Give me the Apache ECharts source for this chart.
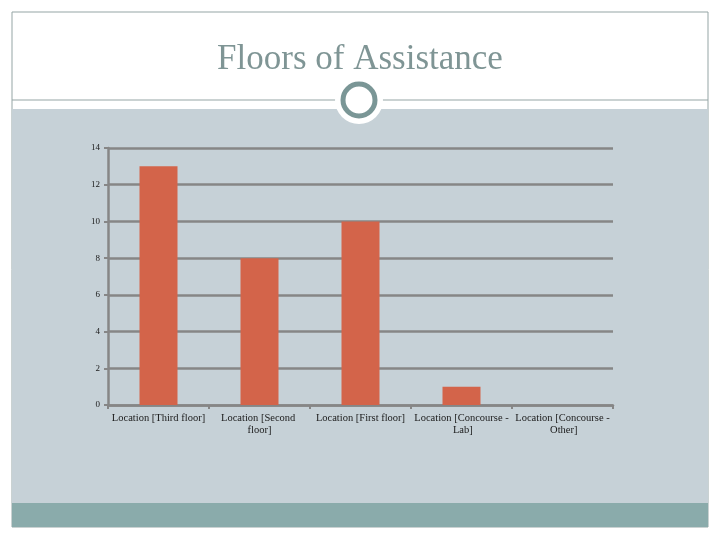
<!DOCTYPE html>
<html>
<head>
<meta charset="utf-8">
<script src="https://cdn.jsdelivr.net/npm/echarts@6/dist/echarts.min.js"></script>
<style>
  html, body { margin: 0; padding: 0; background: #fff; }
  #main { width: 720px; height: 540px; }
</style>
</head>
<body>
<div id="main"></div>
<script>
var titleText = 'Floors of Assistance';
var categories = [
  'Location [Third floor]',
  'Location [Second floor]',
  'Location [First floor]',
  'Location [Concourse - Lab]',
  'Location [Concourse - Other]'
];
var counts = [13, 8, 10, 1, 0];
var yTicks = [0, 2, 4, 6, 8, 10, 12, 14];

var myChart = echarts.init(document.getElementById('main'));

var option = {
  backgroundColor: '#ffffff',
  animation: false,
  title: {
    text: titleText,
    left: 'center',
    top: 37,
    textStyle: {
      fontFamily: 'Liberation Serif',
      fontWeight: 'normal',
      fontSize: 35,
      color: '#7f9595'
    }
  },
  graphic: [
    // slide frame
    { type: 'rect', z: -20, shape: { x: 12, y: 12, width: 696, height: 515 },
      style: { fill: '#ffffff', stroke: '#95a5a5', lineWidth: 1 } },
    // grey-blue panel
    { type: 'rect', z: -19, shape: { x: 12, y: 109, width: 696, height: 394 },
      style: { fill: '#c6d1d7' } },
    // bottom band
    { type: 'rect', z: -19, shape: { x: 12, y: 503, width: 696, height: 24 },
      style: { fill: '#8aabab' } },
    // rule under title
    { type: 'line', z: -18, shape: { x1: 12, y1: 100, x2: 708, y2: 100 },
      style: { stroke: '#95a5a5', lineWidth: 1 } },
    // circle badge
    { type: 'circle', z: -17, shape: { cx: 359, cy: 100, r: 24 },
      style: { fill: '#ffffff' } },
    { type: 'circle', z: -16, shape: { cx: 359, cy: 100, r: 16 },
      style: { fill: '#ffffff', stroke: '#7a9696', lineWidth: 5 } }
  ],
  grid: {
    left: 108,
    right: 107,
    top: 148,
    bottom: 135
  },
  xAxis: {
    type: 'category',
    data: categories,
    axisLine: { lineStyle: { color: '#868686', width: 2.5 } },
    axisTick: { show: true, length: 4, lineStyle: { color: '#868686', width: 2 } },
    axisLabel: {
      interval: 0,
      width: 97,
      overflow: 'break',
      margin: 7,
      fontFamily: 'Liberation Serif',
      fontSize: 10.5,
      lineHeight: 12,
      color: '#1a1a1a'
    }
  },
  yAxis: {
    type: 'value',
    min: yTicks[0],
    max: yTicks[yTicks.length - 1],
    interval: 2,
    axisLine: { show: true, lineStyle: { color: '#868686', width: 2.5 } },
    axisTick: { show: true, length: 4, lineStyle: { color: '#868686', width: 2 } },
    splitLine: { lineStyle: { color: '#868686', width: 2.5 } },
    axisLabel: {
      margin: 8,
      fontFamily: 'Liberation Serif',
      fontSize: 9,
      color: '#1a1a1a'
    }
  },
  series: [{
    type: 'bar',
    data: counts,
    barWidth: 38,
    itemStyle: { color: '#d3644a' }
  }]
};

myChart.setOption(option);
</script>
</body>
</html>
